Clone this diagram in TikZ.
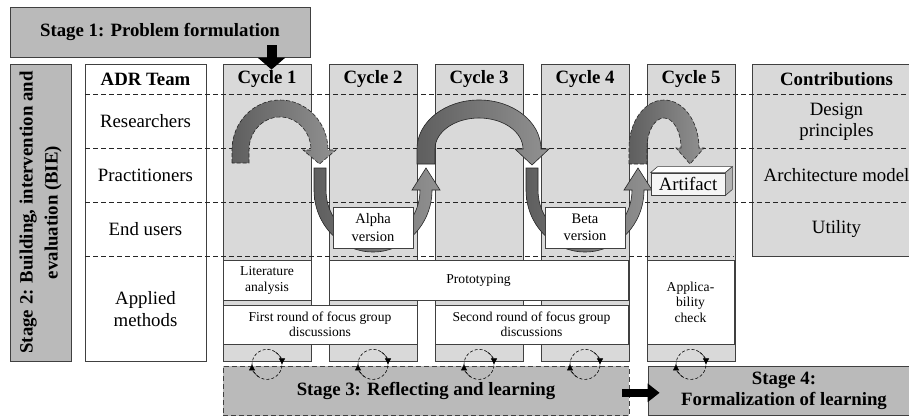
\documentclass[tikz,border=0pt]{standalone}
\usepackage{fontspec}
\setmainfont{Liberation Serif}
\usetikzlibrary{arrows.meta,calc}

\tikzset{
	tbox/.style={draw=black!75, line width=0.8pt, inner sep=0pt},
	colbox/.style={tbox, fill=black!15},
	stagebox/.style={tbox, fill=black!27},
	whitebox/.style={tbox, fill=white},
	rowline/.style={black!85, line width=0.6pt, dash pattern=on 5pt off 3pt},
	txt/.style={font=\fontsize{18.8}{21.5}\selectfont, align=center, inner sep=0pt},
	btxt/.style={txt, font=\fontsize{18.8}{21.5}\selectfont\bfseries},
	stxt/.style={font=\fontsize{13.6}{15.5}\selectfont, align=center, inner sep=0pt},
	vtxt/.style={font=\fontsize{14.5}{17.5}\selectfont, align=center, inner sep=0pt},
	band/.style={draw=black!85, line width=0.6pt, left color=black!63, right color=black!43},
	dashband/.style={band, dash pattern=on 4pt off 2pt},
	blockarrow/.style={line width=10pt, -{Triangle[length=12pt,width=27pt]}},
	loopline/.style={line width=0.6pt, dash pattern=on 3pt off 2pt},
	looptip/.style={loopline, -{Triangle[length=6pt,width=6pt]}},
}

\begin{document}
\begin{tikzpicture}[x=1pt, y=1pt]
	\useasboundingbox (0,0) rectangle (909,-417);
	\clip (0,0) rectangle (909,-417);

	% stages 1 and 2
	\node[stagebox, btxt, minimum width=300pt, minimum height=50pt] (stage1) at (160,-32) {Stage 1: Problem formulation};
	\node[stagebox, minimum width=61pt, minimum height=297pt] (stage2) at (40.5,-212.5) {};
	\node[btxt, font=\fontsize{18.8}{25}\selectfont\bfseries, rotate=90] (stage2txt) at (stage2) {Stage 2: Building, intervention and\\evaluation (BIE)};

	% team, cycles and contributions
	\node[whitebox, minimum width=121pt, minimum height=297pt] (adr) at (145.5,-212.5) {};
	\foreach \i [evaluate=\i as \cx using 267+106*(\i-1)] in {1,...,5}
		\node[colbox, minimum width=88pt, minimum height=297pt] (col\i) at (\cx,-212.5) {};
	\node[colbox, minimum width=169pt, minimum height=192pt] (contrib) at (836.5,-160) {};

	\foreach \y in {94,148,202}
		\draw[rowline] (85,-\y) -- (921,-\y);
	\draw[rowline] (85,-256) -- (734,-256);

	\node[btxt] (adrhead) at (145.5,-79) {ADR Team};
	\foreach \i in {1,...,5}
		\node[btxt] (cyc\i) at (col\i.north |- adrhead) {Cycle \i};
	\node[btxt] (contribhead) at (contrib.north |- adrhead) {Contributions};

	\node[txt] (researchers) at (145.5,-121) {Researchers};
	\node[txt] (practitioners) at (145.5,-175) {Practitioners};
	\node[txt] (endusers) at (145.5,-229) {End users};
	\node[txt] (methods) at (145.5,-309) {Applied\\methods};
	\node[txt] (principles) at (836.5,-122) {Design\\principles};
	\node[txt] (archmodel) at (836.5,-175) {Architecture model};
	\node[txt] (utility) at (836.5,-229) {Utility};

	% applied methods
	\node[whitebox, stxt, minimum width=88pt, minimum height=40pt] (litanalysis) at (267,-280.7) {Literature\\analysis};
	\node[whitebox, stxt, minimum width=299pt, minimum height=40pt] (prototyping) at (478.5,-280.7) {Prototyping};
	\node[whitebox, stxt, minimum width=194pt, minimum height=39pt] (focus1) at (320,-324.5) {First round of focus group\\discussions};
	\node[whitebox, stxt, minimum width=193pt, minimum height=39pt] (focus2) at (531.5,-324.5) {Second round of focus group\\discussions};
	\node[whitebox, stxt, minimum width=87pt, minimum height=83.3pt] (applicability) at (690.5,-302.3) {Applica-\\bility\\check};

	% cycle arrows
	\draw[dashband] (232,-163) -- (232,-150) arc[start angle=180, end angle=0, x radius=48, y radius=50]
		-- (336,-150) -- (319.5,-164) -- (303,-150) -- (311,-150)
		arc[start angle=0, end angle=180, x radius=31, y radius=33] -- (249,-163) -- cycle;
	\draw[band] (417,-164) -- (417,-149) arc[start angle=180, end angle=0, x radius=62, y radius=49]
		-- (549,-149) -- (532,-165) -- (515,-149) -- (523,-149)
		arc[start angle=0, end angle=180, x radius=44, y radius=31] -- (435,-164) -- cycle;
	\draw[dashband] (629,-164) -- (629,-148) arc[start angle=180, end angle=0, x radius=35, y radius=48]
		-- (704,-148) -- (690,-164) -- (676,-148) -- (681,-148)
		arc[start angle=0, end angle=180, x radius=17, y radius=30] -- (647,-164) -- cycle;
	\foreach \s in {0,212}
		\draw[band, xshift=\s] (314,-168) -- (314,-190) arc[start angle=180, end angle=360, x radius=59, y radius=62]
			-- (440,-190) -- (426,-168) -- (412,-190) -- (420,-190)
			arc[start angle=360, end angle=180, x radius=47, y radius=50] -- (326,-168) -- cycle;

	\node[whitebox, vtxt, minimum width=80pt, minimum height=41pt] (alpha) at (373,-227.5) {Alpha\\version};
	\node[whitebox, vtxt, minimum width=80pt, minimum height=41pt] (beta) at (585,-227.5) {Beta\\version};

	% artifact
	\node[tbox, fill=black!4, txt, minimum width=74pt, minimum height=22pt] (artifact) at (688,-184) {Artifact};
	\filldraw[fill=white, draw=black!75, line width=0.6pt] (artifact.north west) -- ++(7,6) -- ([shift={(7,6)}]artifact.north east) -- (artifact.north east) -- cycle;
	\filldraw[fill=black!30, draw=black!75, line width=0.6pt] (artifact.north east) -- ++(7,6) -- ([shift={(7,6)}]artifact.south east) -- (artifact.south east) -- cycle;

	\coordinate (c1in) at ([shift={(4.5,-6)}]col1.north);
	\draw[blockarrow] ($(stage1.south -| c1in)+(0,12)$) -- (c1in);

	% stages 3 and 4
	\node[stagebox, btxt, dash pattern=on 5pt off 3pt, minimum width=406pt, minimum height=49.7pt] (stage3) at (426,-390.8) {Stage 3: Reflecting and learning};
	\node[stagebox, btxt, minimum width=272pt, minimum height=49.7pt] (stage4) at (784,-390.8) {Stage 4:\\Formalization of learning};
	\draw[line width=8.5pt, -{Triangle[length=12pt,width=18pt]}] ([shift={(-7,-2)}]stage3.east) -- ([shift={(12,-2)}]stage4.west);

	\foreach \i in {1,...,5} {
		\coordinate (loop\i) at ([yshift=-3pt]col\i.south);
		\draw[loopline] (loop\i) circle[radius=15];
		\draw[looptip] ($(loop\i)+(-125:15)$) arc[start angle=-125, end angle=-180, radius=15];
		\draw[looptip] ($(loop\i)+(55:15)$) arc[start angle=55, end angle=0, radius=15];
	}
\end{tikzpicture}
\end{document}
